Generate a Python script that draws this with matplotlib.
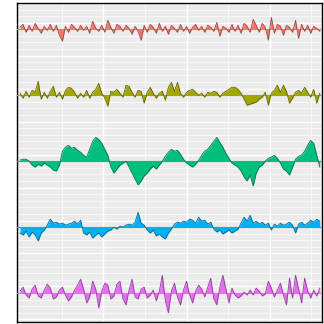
import numpy as np
import matplotlib
matplotlib.use("Agg")
import matplotlib.pyplot as plt
from matplotlib.colors import to_rgb

# deviations from each series baseline (pixel-ish units)
red = [2, 5, -3, 4, -2, 6, 1, -4, 3, -1,
       5, -2, 4, -6, -12, 3, -3, 5, 2, -2,
       4, -1, 3, -4, 8, 1, -2, 4, -3, 9,
       2, -4, 5, 3, -2, 4, 1, -5, 3, -2,
       -11, 4, -3, 5, 2, -4, 6, -2, 3, -5,
       4, 1, -3, 5, -2, 3, -4, 2, 5, -1,
       3, -3, 4, 2, -2, 7, -7, 3, 1, -3,
       5, -2, 4, -4, 6, 3, -3, 10, 4, -3,
       6, 2, -11, 12, -4, 5, 3, -6, 4, 2,
       -3, 9, -9, 5, -2, 4, -4, 3, 1, -2]
olive = [2, -3, 4, -2, 5, 3, 14, -4, 3, -3,
         4, 9, -2, 3, -4, 5, 8, 7, 3, -3,
         2, -2, 5, -3, 3, 6, 12, 2, -3, -11,
         4, 3, 6, 2, -2, 10, 9, 3, -2, 5,
         4, -8, 3, 8, 2, -3, 2, 4, -5, 8,
         13, 4, 13, 2, -2, 3, 5, 6, 3, 0,
         2, -2, 3, 2, 4, 3, -2, 2, 4, 6,
         8, 8, 6, 2, -4, -10, -9, -8, -7, -4,
         -2, 3, -10, 2, 5, 10, 3, 10, 4, -8,
         -3, 3, 5, 2, 8, 3, -2, 6, -8, 2]
green = [1, 2, 2, 0, -4, -6, -3, -5, -2, -4,
         -6, -9, -10, -4, 10, 14, 16, 13, 14, 11,
         9, 6, 4, 12, 20, 24, 22, 18, 12, 6,
         -6, -12, -8, -4, -2, 0, -6, -12, -18, -24,
         -20, -15, -12, -8, -5, -8, -4, 0, 5, 9,
         12, 10, 11, 7, 2, -2, -4, -6, -3, 1,
         6, 10, 12, 16, 20, 24, 19, 14, 8, 3,
         -2, -4, -6, -10, -16, -20, -14, -25, -12, -6,
         -4, 0, 3, 4, 6, 3, -2, -8, -10, -14,
         -6, 2, 5, 6, 10, 16, 21, 18, 6, -6]
blue = [-6, -8, -4, -10, -5, -8, -14, -6, -3, 2,
        8, 4, 5, 3, 4, 2, 3, 4, 6, 3,
        7, -6, -8, -5, -11, -8, -6, -10, -7, -4,
        -3, 0, -2, 1, 0, 2, 3, 2, 5, 15,
        4, 2, -3, -6, -3, -9, -7, -10, -12, -6,
        -2, 3, 5, 4, 6, 5, 8, 7, 4, 10,
        6, 7, 3, 5, -2, -5, -3, -7, -5, -3,
        -6, -4, -2, 4, 10, 6, 12, 4, 6, 3,
        5, 2, 4, -3, 3, 1, 4, 2, 3, 5,
        2, -6, 3, 5, 2, 4, 7, 5, 8, 6]
magenta = [2, 6, -2, -5, 4, 8, -3, -5, 3, 9,
           5, -6, -4, 3, 6, -2, -8, -4, 3, 8,
           14, 4, -10, -4, 12, 4, -15, 2, 10, 8,
           -6, -3, 9, 12, -6, -12, 3, 14, -4, -6,
           4, 6, -5, -2, 3, -8, 2, 18, -8, -20,
           2, 10, -4, -12, 3, 12, -2, -10, 2, 8,
           4, -4, 6, 15, -6, -12, 6, 18, 4, -10,
           5, -2, -5, -3, 1, -2, 3, -2, 5, 2,
           -3, -1, 12, 5, -4, 3, 10, -2, -12, 15,
           -5, 18, 4, -10, 15, 2, -5, 3, -3, 5]

series = [red, olive, green, blue, magenta]
colors = ["#F8766D", "#A3A500", "#00BF7D", "#00B0F6", "#E76BF3"]
offsets = [4, 3, 2, 1, 0]
scale = 1 / 66.5

fig = plt.figure(figsize=(3.24, 3.24), dpi=100)
ax = fig.add_axes([0.0525, 0.006, 0.941, 0.985])
ax.set_facecolor("#EBEBEB")

x = np.arange(len(red))
for vals, col, off in zip(series, colors, offsets):
    y = off + np.array(vals) * scale
    ax.fill_between(x, off, y, color=col, lw=0, zorder=3)
    dark = tuple(c * 0.6 for c in to_rgb(col))
    ax.plot(x, y, color=dark, lw=0.6, zorder=4)
    ax.axhline(off, color=col, lw=0.8, zorder=3.5)

ax.set_xlim(-1, 99.7)
ax.set_ylim(-0.44, 4.36)
ax.set_xticks([27.5, 55, 82.5])
ax.set_xticks([13.75, 41.25, 68.75, 96.25], minor=True)
ax.set_yticks(np.arange(-0.4, 4.4, 0.5))
ax.set_yticks(np.arange(-0.4, 4.4, 0.1), minor=True)
ax.grid(which="major", color="white", lw=1.0, zorder=1)
ax.grid(which="minor", color="white", lw=0.5, zorder=1)
ax.tick_params(which="both", length=0, labelbottom=False, labelleft=False)
for s in ax.spines.values():
    s.set_color("black")
    s.set_linewidth(1.0)

fig.savefig("out.png", dpi=100)
